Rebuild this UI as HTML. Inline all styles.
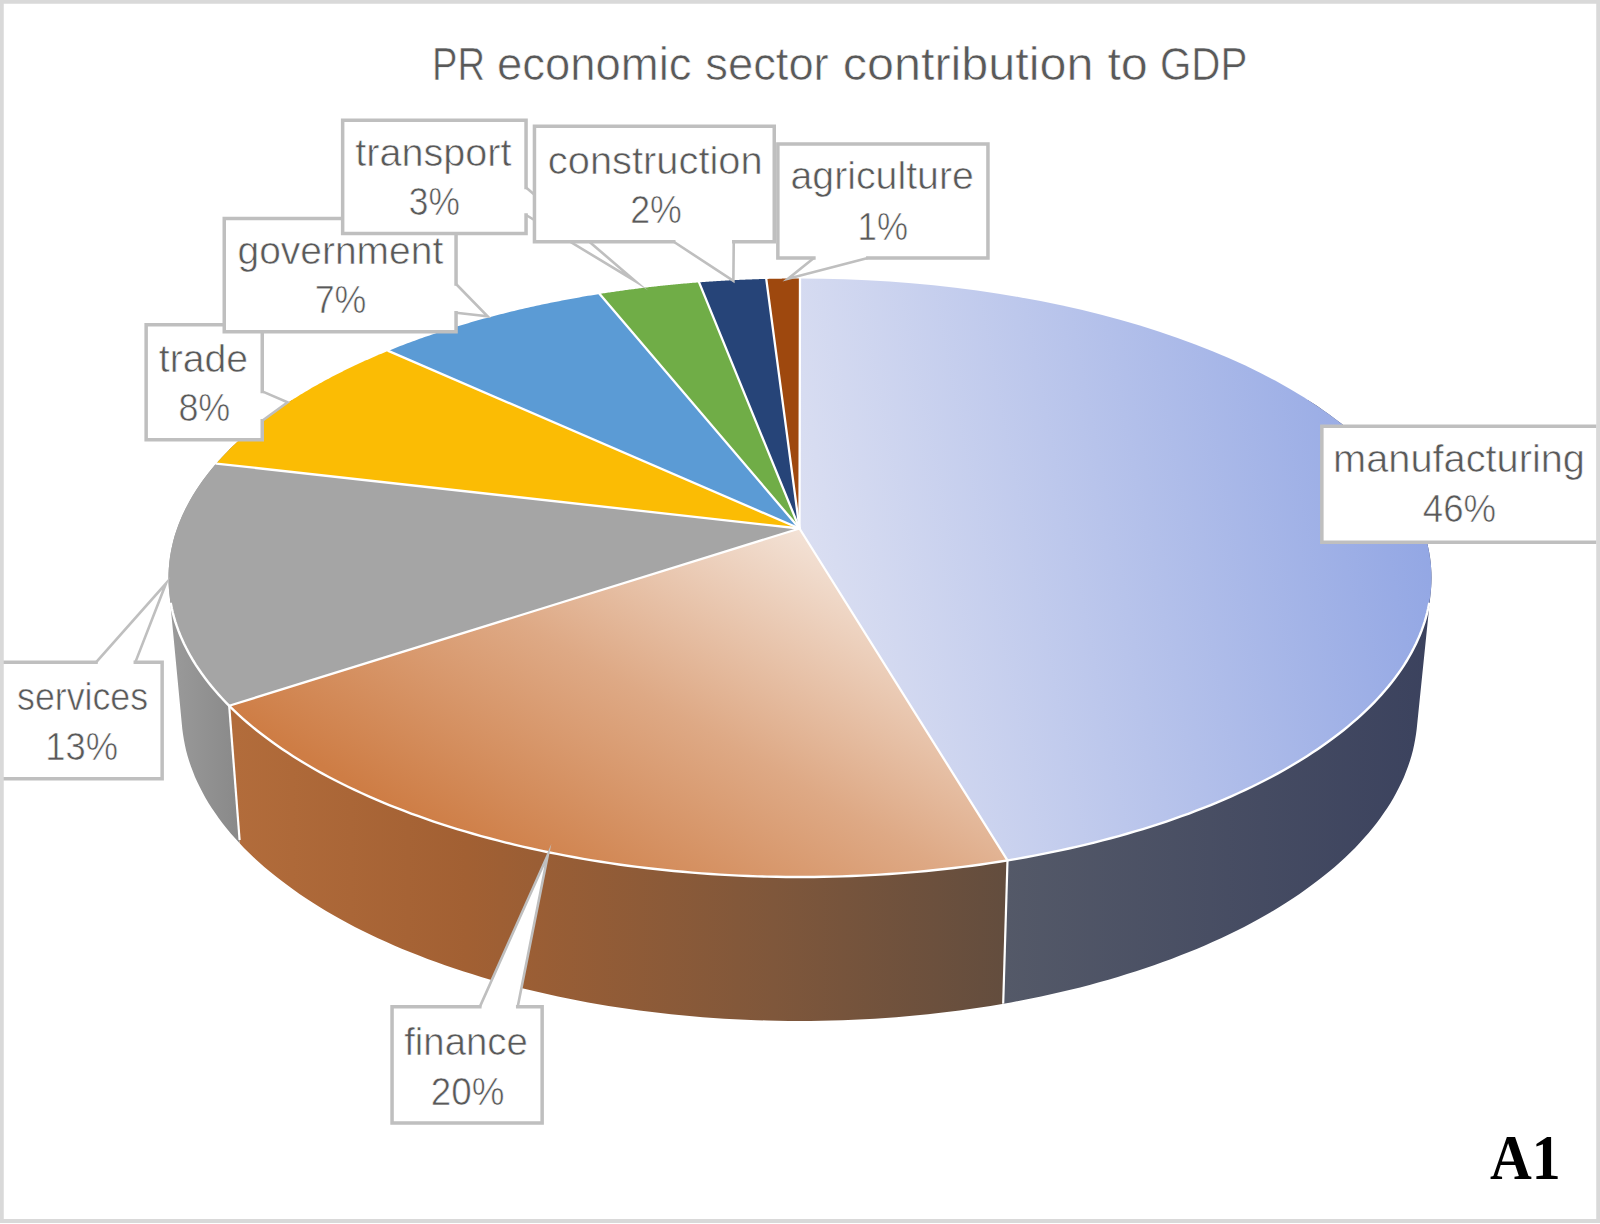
<!DOCTYPE html>
<html><head><meta charset="utf-8"><title>PR economic sector contribution to GDP</title>
<style>html,body{margin:0;padding:0;background:#fff}body{width:1600px;height:1224px;overflow:hidden}svg{display:block}text{font-family:"Liberation Sans",sans-serif;fill:#595959;stroke:#fff;stroke-width:0.6px}.a1{font-family:"Liberation Serif",serif;font-weight:bold;fill:#000;stroke:none}</style></head><body>
<svg width="1600" height="1224" viewBox="0 0 1600 1224">
<defs>
<linearGradient id="gMan" gradientUnits="userSpaceOnUse" x1="800" y1="600" x2="1418" y2="480"><stop offset="0" stop-color="#DCE0F2"/><stop offset="1" stop-color="#93A7E4"/></linearGradient>
<linearGradient id="gFin" gradientUnits="userSpaceOnUse" x1="799.5" y1="528.5" x2="577.5" y2="913"><stop offset="0" stop-color="#F3E2D6"/><stop offset="0.5" stop-color="#DEA985"/><stop offset="1" stop-color="#CE7D45"/></linearGradient>
<linearGradient id="wSer" gradientUnits="userSpaceOnUse" x1="170" y1="0" x2="240" y2="0"><stop offset="0" stop-color="#9A9A9A"/><stop offset="1" stop-color="#898989"/></linearGradient>
<linearGradient id="wFin" gradientUnits="userSpaceOnUse" x1="235" y1="0" x2="1005" y2="0"><stop offset="0" stop-color="#B26C3B"/><stop offset="0.3" stop-color="#A26033"/><stop offset="0.7" stop-color="#7F573B"/><stop offset="1" stop-color="#634D3E"/></linearGradient>
<linearGradient id="wMan" gradientUnits="userSpaceOnUse" x1="1005" y1="0" x2="1432" y2="0"><stop offset="0" stop-color="#545968"/><stop offset="1" stop-color="#3B425E"/></linearGradient>
<clipPath id="hull"><path d="M169.4,593.4 L168.9,588.2 L168.6,583.0 L168.5,577.8 L168.6,572.5 L168.9,567.3 L169.4,562.1 L170.0,556.9 L170.9,551.7 L172.0,546.5 L173.2,541.3 L174.6,536.1 L176.3,530.9 L178.1,525.8 L180.1,520.7 L182.3,515.5 L184.7,510.4 L187.3,505.4 L190.0,500.3 L193.0,495.3 L196.1,490.3 L199.4,485.3 L202.9,480.3 L206.6,475.4 L210.4,470.5 L214.5,465.6 L218.7,460.8 L223.1,456.0 L227.7,451.3 L232.4,446.6 L237.3,441.9 L242.4,437.3 L247.7,432.7 L253.1,428.1 L258.7,423.6 L264.5,419.2 L270.4,414.8 L276.5,410.4 L282.7,406.1 L289.1,401.9 L295.7,397.7 L302.4,393.5 L309.2,389.4 L316.2,385.4 L323.4,381.4 L330.7,377.5 L338.2,373.7 L345.7,369.9 L353.5,366.1 L361.3,362.5 L369.3,358.9 L377.4,355.4 L385.7,351.9 L394.1,348.5 L402.6,345.2 L411.2,341.9 L420.0,338.8 L428.8,335.7 L437.8,332.6 L446.9,329.7 L456.1,326.8 L465.4,324.0 L474.8,321.2 L484.2,318.6 L493.8,316.0 L503.5,313.5 L513.3,311.1 L523.2,308.8 L533.1,306.5 L543.1,304.4 L553.3,302.3 L563.4,300.3 L573.7,298.4 L584.0,296.5 L594.4,294.8 L604.9,293.1 L615.4,291.6 L625.9,290.1 L636.6,288.7 L647.2,287.4 L657.9,286.2 L668.7,285.0 L679.5,284.0 L690.3,283.0 L701.2,282.2 L712.1,281.4 L723.0,280.7 L734.0,280.1 L745.0,279.6 L755.9,279.2 L766.9,278.9 L778.0,278.7 L789.0,278.5 L800.0,278.5 L811.0,278.5 L822.0,278.7 L833.1,278.9 L844.1,279.2 L855.0,279.6 L866.0,280.1 L877.0,280.7 L887.9,281.4 L898.8,282.2 L909.7,283.0 L920.5,284.0 L931.3,285.0 L942.1,286.2 L952.8,287.4 L963.4,288.7 L974.1,290.1 L984.6,291.6 L995.1,293.1 L1005.6,294.8 L1016.0,296.5 L1026.3,298.4 L1036.6,300.3 L1046.7,302.3 L1056.9,304.4 L1066.9,306.5 L1076.8,308.8 L1086.7,311.1 L1096.5,313.5 L1106.2,316.0 L1115.8,318.6 L1125.2,321.2 L1134.6,324.0 L1143.9,326.8 L1153.1,329.7 L1162.2,332.6 L1171.2,335.7 L1180.0,338.8 L1188.8,341.9 L1197.4,345.2 L1205.9,348.5 L1214.3,351.9 L1222.6,355.4 L1230.7,358.9 L1238.7,362.5 L1246.5,366.1 L1254.3,369.9 L1261.8,373.7 L1269.3,377.5 L1276.6,381.4 L1283.8,385.4 L1290.8,389.4 L1297.6,393.5 L1304.3,397.7 L1310.9,401.9 L1317.3,406.1 L1323.5,410.4 L1329.6,414.8 L1335.5,419.2 L1341.3,423.6 L1346.9,428.1 L1352.3,432.7 L1357.6,437.3 L1362.7,441.9 L1367.6,446.6 L1372.3,451.3 L1376.9,456.0 L1381.3,460.8 L1385.5,465.6 L1389.6,470.5 L1393.4,475.4 L1397.1,480.3 L1400.6,485.3 L1403.9,490.3 L1407.0,495.3 L1410.0,500.3 L1412.7,505.4 L1415.3,510.4 L1417.7,515.5 L1419.9,520.7 L1421.9,525.8 L1423.7,530.9 L1425.4,536.1 L1426.8,541.3 L1428.0,546.5 L1429.1,551.7 L1430.0,556.9 L1430.6,562.1 L1431.1,567.3 L1431.4,572.5 L1431.5,577.8 L1431.4,583.0 L1431.1,588.2 L1430.6,593.4 L1416.7,728.9 L1416.0,734.3 L1415.1,739.7 L1414.1,745.0 L1412.9,750.4 L1411.5,755.7 L1409.9,761.0 L1408.1,766.3 L1406.1,771.6 L1404.0,776.9 L1401.7,782.1 L1399.1,787.3 L1396.4,792.6 L1393.6,797.7 L1390.5,802.9 L1387.3,808.0 L1383.8,813.1 L1380.2,818.2 L1376.5,823.2 L1372.5,828.2 L1368.4,833.2 L1364.1,838.1 L1359.6,843.0 L1355.0,847.9 L1350.1,852.7 L1345.2,857.5 L1340.0,862.2 L1334.7,866.9 L1329.2,871.5 L1323.6,876.1 L1317.8,880.6 L1311.8,885.1 L1305.7,889.5 L1299.5,893.9 L1293.1,898.2 L1286.5,902.5 L1279.8,906.7 L1272.9,910.9 L1265.9,915.0 L1258.8,919.0 L1251.5,923.0 L1244.1,926.9 L1236.5,930.7 L1228.8,934.5 L1221.0,938.2 L1213.0,941.8 L1204.9,945.4 L1196.7,948.9 L1188.4,952.3 L1180.0,955.6 L1171.4,958.9 L1162.8,962.1 L1154.0,965.2 L1145.1,968.3 L1136.1,971.2 L1127.0,974.1 L1117.8,976.9 L1108.5,979.7 L1099.1,982.3 L1089.6,984.9 L1080.1,987.4 L1070.4,989.8 L1060.7,992.1 L1050.9,994.3 L1041.0,996.5 L1031.0,998.5 L1021.0,1000.5 L1010.9,1002.4 L1000.7,1004.2 L990.5,1005.9 L980.2,1007.5 L969.8,1009.0 L959.5,1010.5 L949.0,1011.8 L938.5,1013.1 L928.0,1014.2 L917.4,1015.3 L906.8,1016.3 L896.2,1017.2 L885.5,1018.0 L874.8,1018.7 L864.1,1019.3 L853.4,1019.8 L842.6,1020.2 L831.8,1020.5 L821.1,1020.8 L810.3,1020.9 L799.5,1020.9 L788.7,1020.9 L777.9,1020.8 L767.2,1020.5 L756.4,1020.2 L745.6,1019.8 L734.9,1019.3 L724.2,1018.7 L713.5,1018.0 L702.8,1017.2 L692.2,1016.3 L681.6,1015.3 L671.0,1014.2 L660.5,1013.1 L650.0,1011.8 L639.5,1010.5 L629.2,1009.0 L618.8,1007.5 L608.5,1005.9 L598.3,1004.2 L588.1,1002.4 L578.0,1000.5 L568.0,998.5 L558.0,996.5 L548.1,994.3 L538.3,992.1 L528.6,989.8 L518.9,987.4 L509.4,984.9 L499.9,982.3 L490.5,979.7 L481.2,976.9 L472.0,974.1 L462.9,971.2 L453.9,968.3 L445.0,965.2 L436.2,962.1 L427.6,958.9 L419.0,955.6 L410.6,952.3 L402.3,948.9 L394.1,945.4 L386.0,941.8 L378.0,938.2 L370.2,934.5 L362.5,930.7 L354.9,926.9 L347.5,923.0 L340.2,919.0 L333.1,915.0 L326.1,910.9 L319.2,906.7 L312.5,902.5 L305.9,898.2 L299.5,893.9 L293.3,889.5 L287.2,885.1 L281.2,880.6 L275.4,876.1 L269.8,871.5 L264.3,866.9 L259.0,862.2 L253.8,857.5 L248.9,852.7 L244.0,847.9 L239.4,843.0 L234.9,838.1 L230.6,833.2 L226.5,828.2 L222.5,823.2 L218.8,818.2 L215.2,813.1 L211.7,808.0 L208.5,802.9 L205.4,797.7 L202.6,792.6 L199.9,787.3 L197.3,782.1 L195.0,776.9 L192.9,771.6 L190.9,766.3 L189.1,761.0 L187.5,755.7 L186.1,750.4 L184.9,745.0 L183.9,739.7 L183.0,734.3 L182.3,728.9Z"/></clipPath>
<clipPath id="frame"><rect x="0" y="0" width="1596.5" height="1224"/></clipPath>
</defs>
<rect width="1600" height="1224" fill="#fff"/>
<g clip-path="url(#hull)">
<polygon points="0,400 229.2,400 239.6,840.0 242.6,1224 0,1224" fill="url(#wSer)"/>
<polygon points="229.2,400 229.2,705.8 239.6,840.0 255.6,1224 1002.2,1224 1003.2,1003.8 1007.5,860.4 1007.5,400" fill="url(#wFin)"/>
<polygon points="1007.5,400 1007.5,860.4 1003.2,1003.8 1002.2,1224 1600,1224 1600,400" fill="url(#wMan)"/>
<line x1="229.2" y1="705.8" x2="239.6" y2="840.0" stroke="#fff" stroke-width="2.2"/>
<line x1="1007.5" y1="860.4" x2="1003.2" y2="1003.8" stroke="#fff" stroke-width="2.2"/>
</g>
<path d="M799.50,528.50 L800.00,278.50 L822.43,278.69 L844.84,279.26 L867.18,280.20 L889.44,281.52 L911.59,283.21 L933.60,285.27 L955.44,287.71 L977.09,290.51 L998.51,293.67 L1019.67,297.19 L1040.57,301.06 L1061.16,305.29 L1081.41,309.86 L1101.32,314.76 L1120.84,320.00 L1139.96,325.56 L1158.65,331.44 L1176.89,337.64 L1194.65,344.13 L1211.91,350.92 L1228.65,358.00 L1244.86,365.35 L1260.50,372.98 L1275.56,380.86 L1290.01,388.99 L1303.85,397.35 L1317.06,405.95 L1329.61,414.76 L1341.50,423.78 L1352.70,432.99 L1363.20,442.38 L1372.99,451.95 L1382.06,461.67 L1390.39,471.55 L1397.98,481.55 L1404.81,491.68 L1410.88,501.91 L1416.18,512.24 L1420.70,522.66 L1424.44,533.14 L1427.39,543.68 L1429.55,554.26 L1430.91,564.87 L1431.48,575.50 L1431.25,586.13 L1430.23,596.75 L1428.40,607.35 L1425.79,617.91 L1422.38,628.41 L1418.19,638.86 L1413.22,649.23 L1407.48,659.50 L1400.97,669.68 L1393.70,679.73 L1385.68,689.66 L1376.92,699.45 L1367.43,709.09 L1357.23,718.55 L1346.32,727.85 L1334.73,736.95 L1322.45,745.85 L1309.52,754.54 L1295.95,763.00 L1281.75,771.23 L1266.94,779.22 L1251.55,786.95 L1235.58,794.42 L1219.06,801.62 L1202.02,808.53 L1184.47,815.15 L1166.43,821.47 L1147.93,827.49 L1128.99,833.18 L1109.63,838.56 L1089.89,843.61 L1069.77,848.32 L1049.32,852.69 L1028.56,856.71 L1007.50,860.38Z" fill="url(#gMan)"/>
<path d="M799.50,528.50 L1007.50,860.38 L996.42,862.16 L985.26,863.83 L974.05,865.41 L962.77,866.89 L951.44,868.27 L940.06,869.55 L928.63,870.73 L917.15,871.81 L905.64,872.78 L894.08,873.66 L882.50,874.44 L870.89,875.11 L859.25,875.68 L847.59,876.15 L835.92,876.52 L824.23,876.78 L812.54,876.94 L800.84,877.00 L789.14,876.96 L777.45,876.81 L765.76,876.56 L754.09,876.21 L742.43,875.75 L730.79,875.20 L719.17,874.54 L707.58,873.78 L696.03,872.92 L684.50,871.95 L673.02,870.89 L661.59,869.72 L650.19,868.46 L638.86,867.09 L627.57,865.63 L616.35,864.07 L605.19,862.40 L594.09,860.65 L583.07,858.79 L572.12,856.84 L561.25,854.79 L550.46,852.65 L539.75,850.41 L529.14,848.08 L518.62,845.65 L508.19,843.14 L497.87,840.53 L487.65,837.83 L477.54,835.04 L467.53,832.17 L457.64,829.21 L447.87,826.16 L438.22,823.03 L428.69,819.81 L419.30,816.51 L410.03,813.12 L400.89,809.66 L391.90,806.12 L383.04,802.49 L374.32,798.80 L365.76,795.02 L357.34,791.17 L349.07,787.25 L340.96,783.25 L333.00,779.19 L325.21,775.06 L317.58,770.85 L310.11,766.59 L302.81,762.25 L295.68,757.86 L288.73,753.40 L281.95,748.88 L275.35,744.30 L268.93,739.67 L262.69,734.98 L256.64,730.24 L250.77,725.44 L245.09,720.59 L239.60,715.70 L234.30,710.75 L229.20,705.77Z" fill="url(#gFin)"/>
<path d="M799.50,528.50 L229.20,705.77 L226.38,702.90 L223.63,700.03 L220.94,697.14 L218.31,694.24 L215.75,691.32 L213.25,688.39 L210.82,685.45 L208.45,682.50 L206.15,679.54 L203.92,676.56 L201.75,673.58 L199.65,670.58 L197.62,667.57 L195.65,664.56 L193.75,661.53 L191.92,658.49 L190.16,655.45 L188.46,652.40 L186.83,649.33 L185.27,646.26 L183.78,643.19 L182.36,640.10 L181.01,637.01 L179.72,633.91 L178.50,630.81 L177.36,627.70 L176.28,624.58 L175.27,621.46 L174.33,618.33 L173.46,615.20 L172.67,612.07 L171.94,608.93 L171.28,605.78 L170.69,602.64 L170.17,599.49 L169.72,596.34 L169.34,593.19 L169.03,590.03 L168.79,586.88 L168.63,583.72 L168.53,580.56 L168.50,577.41 L168.54,574.25 L168.66,571.09 L168.84,567.93 L169.09,564.78 L169.42,561.63 L169.81,558.47 L170.28,555.32 L170.81,552.18 L171.41,549.03 L172.09,545.89 L172.83,542.75 L173.65,539.62 L174.53,536.49 L175.49,533.36 L176.51,530.24 L177.60,527.13 L178.76,524.02 L179.99,520.91 L181.29,517.82 L182.66,514.73 L184.10,511.64 L185.61,508.57 L187.18,505.50 L188.83,502.44 L190.54,499.39 L192.32,496.34 L194.16,493.31 L196.08,490.29 L198.06,487.27 L200.11,484.27 L202.22,481.27 L204.40,478.29 L206.65,475.31 L208.96,472.35 L211.34,469.40 L213.79,466.47 L216.30,463.54Z" fill="#A5A5A5"/>
<path d="M799.50,528.50 L216.30,463.54 L217.74,461.90 L219.20,460.26 L220.69,458.63 L222.19,457.00 L223.71,455.38 L225.25,453.76 L226.82,452.15 L228.40,450.54 L230.01,448.93 L231.63,447.33 L233.27,445.73 L234.94,444.14 L236.62,442.55 L238.33,440.97 L240.05,439.39 L241.79,437.82 L243.56,436.25 L245.34,434.69 L247.14,433.13 L248.96,431.58 L250.81,430.03 L252.67,428.49 L254.55,426.95 L256.45,425.42 L258.36,423.89 L260.30,422.37 L262.26,420.85 L264.23,419.34 L266.23,417.84 L268.24,416.34 L270.27,414.84 L272.32,413.36 L274.39,411.88 L276.48,410.40 L278.59,408.93 L280.71,407.47 L282.85,406.01 L285.01,404.55 L287.19,403.11 L289.39,401.67 L291.61,400.24 L293.84,398.81 L296.09,397.39 L298.36,395.97 L300.65,394.56 L302.95,393.16 L305.27,391.77 L307.61,390.38 L309.97,389.00 L312.34,387.62 L314.73,386.25 L317.14,384.89 L319.57,383.54 L322.01,382.19 L324.47,380.85 L326.94,379.51 L329.43,378.18 L331.94,376.86 L334.47,375.55 L337.01,374.24 L339.57,372.94 L342.14,371.65 L344.73,370.37 L347.34,369.09 L349.96,367.82 L352.60,366.56 L355.25,365.30 L357.92,364.05 L360.61,362.81 L363.31,361.58 L366.03,360.36 L368.76,359.14 L371.51,357.93 L374.27,356.73 L377.04,355.53 L379.84,354.35 L382.64,353.17 L385.46,352.00 L388.30,350.84Z" fill="#FBBC04"/>
<path d="M799.50,528.50 L388.30,350.84 L390.65,349.88 L393.02,348.94 L395.39,347.99 L397.77,347.05 L400.16,346.12 L402.56,345.20 L404.98,344.28 L407.40,343.36 L409.83,342.45 L412.27,341.55 L414.72,340.65 L417.17,339.76 L419.64,338.87 L422.12,337.99 L424.60,337.11 L427.10,336.24 L429.60,335.38 L432.11,334.52 L434.63,333.67 L437.16,332.83 L439.70,331.99 L442.25,331.15 L444.81,330.32 L447.37,329.50 L449.94,328.68 L452.53,327.87 L455.12,327.07 L457.71,326.27 L460.32,325.48 L462.94,324.69 L465.56,323.91 L468.19,323.14 L470.83,322.37 L473.47,321.61 L476.13,320.85 L478.79,320.10 L481.46,319.36 L484.14,318.62 L486.82,317.89 L489.52,317.17 L492.22,316.45 L494.92,315.74 L497.64,315.03 L500.36,314.33 L503.09,313.64 L505.83,312.95 L508.57,312.27 L511.32,311.60 L514.08,310.93 L516.84,310.27 L519.61,309.61 L522.39,308.97 L525.18,308.32 L527.97,307.69 L530.77,307.06 L533.57,306.44 L536.38,305.82 L539.20,305.21 L542.02,304.61 L544.85,304.01 L547.69,303.42 L550.53,302.84 L553.38,302.26 L556.23,301.69 L559.09,301.13 L561.96,300.57 L564.83,300.02 L567.70,299.48 L570.59,298.95 L573.47,298.42 L576.37,297.89 L579.26,297.38 L582.17,296.87 L585.08,296.36 L587.99,295.87 L590.91,295.38 L593.84,294.90 L596.77,294.42 L599.70,293.95Z" fill="#5B9BD5"/>
<path d="M799.50,528.50 L599.70,293.95 L600.93,293.76 L602.16,293.56 L603.39,293.37 L604.63,293.18 L605.86,292.99 L607.10,292.80 L608.33,292.62 L609.57,292.43 L610.81,292.25 L612.04,292.06 L613.28,291.88 L614.52,291.70 L615.76,291.52 L617.00,291.34 L618.25,291.16 L619.49,290.99 L620.73,290.81 L621.98,290.64 L623.22,290.46 L624.47,290.29 L625.71,290.12 L626.96,289.95 L628.21,289.79 L629.46,289.62 L630.71,289.45 L631.96,289.29 L633.21,289.13 L634.46,288.96 L635.71,288.80 L636.97,288.64 L638.22,288.49 L639.47,288.33 L640.73,288.17 L641.98,288.02 L643.24,287.87 L644.50,287.71 L645.76,287.56 L647.01,287.41 L648.27,287.27 L649.53,287.12 L650.79,286.97 L652.05,286.83 L653.32,286.68 L654.58,286.54 L655.84,286.40 L657.10,286.26 L658.37,286.12 L659.63,285.99 L660.90,285.85 L662.16,285.72 L663.43,285.58 L664.70,285.45 L665.96,285.32 L667.23,285.19 L668.50,285.06 L669.77,284.93 L671.04,284.81 L672.31,284.68 L673.58,284.56 L674.85,284.44 L676.12,284.31 L677.40,284.19 L678.67,284.08 L679.94,283.96 L681.22,283.84 L682.49,283.73 L683.76,283.61 L685.04,283.50 L686.32,283.39 L687.59,283.28 L688.87,283.17 L690.15,283.06 L691.42,282.96 L692.70,282.85 L693.98,282.75 L695.26,282.64 L696.54,282.54 L697.82,282.44 L699.10,282.34Z" fill="#70AD47"/>
<path d="M799.50,528.50 L699.10,282.34 L699.94,282.28 L700.79,282.22 L701.63,282.15 L702.48,282.09 L703.32,282.03 L704.17,281.97 L705.01,281.90 L705.86,281.84 L706.71,281.78 L707.55,281.72 L708.40,281.66 L709.24,281.61 L710.09,281.55 L710.94,281.49 L711.78,281.43 L712.63,281.38 L713.48,281.32 L714.33,281.27 L715.17,281.21 L716.02,281.16 L716.87,281.10 L717.72,281.05 L718.56,281.00 L719.41,280.95 L720.26,280.90 L721.11,280.84 L721.96,280.79 L722.81,280.74 L723.66,280.69 L724.51,280.65 L725.35,280.60 L726.20,280.55 L727.05,280.50 L727.90,280.46 L728.75,280.41 L729.60,280.37 L730.45,280.32 L731.30,280.28 L732.15,280.23 L733.00,280.19 L733.85,280.15 L734.70,280.10 L735.56,280.06 L736.41,280.02 L737.26,279.98 L738.11,279.94 L738.96,279.90 L739.81,279.86 L740.66,279.82 L741.51,279.79 L742.37,279.75 L743.22,279.71 L744.07,279.68 L744.92,279.64 L745.77,279.61 L746.63,279.57 L747.48,279.54 L748.33,279.50 L749.18,279.47 L750.04,279.44 L750.89,279.41 L751.74,279.38 L752.59,279.34 L753.45,279.31 L754.30,279.28 L755.15,279.26 L756.01,279.23 L756.86,279.20 L757.71,279.17 L758.57,279.14 L759.42,279.12 L760.27,279.09 L761.13,279.07 L761.98,279.04 L762.83,279.02 L763.69,279.00 L764.54,278.97 L765.40,278.95 L766.25,278.93Z" fill="#264478"/>
<path d="M799.50,528.50 L766.25,278.93 L766.68,278.92 L767.10,278.91 L767.53,278.90 L767.96,278.89 L768.38,278.88 L768.81,278.87 L769.24,278.86 L769.66,278.85 L770.09,278.84 L770.52,278.83 L770.95,278.82 L771.37,278.81 L771.80,278.80 L772.23,278.79 L772.65,278.78 L773.08,278.77 L773.51,278.76 L773.93,278.76 L774.36,278.75 L774.79,278.74 L775.22,278.73 L775.64,278.72 L776.07,278.71 L776.50,278.71 L776.92,278.70 L777.35,278.69 L777.78,278.69 L778.21,278.68 L778.63,278.67 L779.06,278.66 L779.49,278.66 L779.91,278.65 L780.34,278.65 L780.77,278.64 L781.20,278.63 L781.62,278.63 L782.05,278.62 L782.48,278.62 L782.91,278.61 L783.33,278.60 L783.76,278.60 L784.19,278.59 L784.61,278.59 L785.04,278.58 L785.47,278.58 L785.90,278.57 L786.32,278.57 L786.75,278.57 L787.18,278.56 L787.61,278.56 L788.03,278.55 L788.46,278.55 L788.89,278.55 L789.32,278.54 L789.74,278.54 L790.17,278.54 L790.60,278.53 L791.02,278.53 L791.45,278.53 L791.88,278.52 L792.31,278.52 L792.73,278.52 L793.16,278.52 L793.59,278.52 L794.02,278.51 L794.44,278.51 L794.87,278.51 L795.30,278.51 L795.73,278.51 L796.15,278.51 L796.58,278.50 L797.01,278.50 L797.44,278.50 L797.86,278.50 L798.29,278.50 L798.72,278.50 L799.15,278.50 L799.57,278.50 L800.00,278.50Z" fill="#9E480E"/>
<line x1="799.50" y1="528.50" x2="1007.50" y2="860.38" stroke="#fff" stroke-width="2.3" stroke-linecap="round"/>
<line x1="799.50" y1="528.50" x2="229.20" y2="705.77" stroke="#fff" stroke-width="2.3" stroke-linecap="round"/>
<line x1="799.50" y1="528.50" x2="216.30" y2="463.54" stroke="#fff" stroke-width="2.3" stroke-linecap="round"/>
<line x1="799.50" y1="528.50" x2="388.30" y2="350.84" stroke="#fff" stroke-width="2.3" stroke-linecap="round"/>
<line x1="799.50" y1="528.50" x2="599.70" y2="293.95" stroke="#fff" stroke-width="2.3" stroke-linecap="round"/>
<line x1="799.50" y1="528.50" x2="699.10" y2="282.34" stroke="#fff" stroke-width="2.3" stroke-linecap="round"/>
<line x1="799.50" y1="528.50" x2="766.25" y2="278.93" stroke="#fff" stroke-width="2.3" stroke-linecap="round"/>
<line x1="799.50" y1="528.50" x2="800.00" y2="278.50" stroke="#fff" stroke-width="2.3" stroke-linecap="round"/>
<polyline points="1429.10,603.83 1428.21,608.27 1427.18,612.71 1426.01,617.14 1424.70,621.55 1423.25,625.96 1421.66,630.36 1419.94,634.75 1418.08,639.12 1416.08,643.48 1413.94,647.83 1411.67,652.16 1409.26,656.47 1406.72,660.76 1404.04,665.04 1401.22,669.30 1398.28,673.54 1395.19,677.75 1391.98,681.95 1388.64,686.12 1385.16,690.26 1381.56,694.39 1377.82,698.48 1373.96,702.55 1369.97,706.59 1365.85,710.60 1361.61,714.59 1357.24,718.54 1352.75,722.46 1348.14,726.35 1343.40,730.21 1338.54,734.03 1333.57,737.82 1328.47,741.57 1323.26,745.28 1317.93,748.96 1312.48,752.60 1306.93,756.20 1301.26,759.77 1295.47,763.29 1289.58,766.77 1283.58,770.20 1277.47,773.60 1271.26,776.95 1264.94,780.26 1258.51,783.52 1251.99,786.74 1245.36,789.91 1238.64,793.03 1231.81,796.11 1224.90,799.13 1217.88,802.11 1210.78,805.04 1203.58,807.91 1196.30,810.74 1188.92,813.51 1181.46,816.24 1173.91,818.90 1166.29,821.52 1158.58,824.08 1150.79,826.59 1142.92,829.04 1134.97,831.43 1126.95,833.77 1118.86,836.05 1110.70,838.27 1102.47,840.44 1094.17,842.55 1085.81,844.60 1077.38,846.59 1068.89,848.52 1060.34,850.39 1051.73,852.20 1043.07,853.94 1034.35,855.63 1025.59,857.26 1016.77,858.82 1007.90,860.32 998.99,861.76 990.03,863.13 981.03,864.44 971.99,865.69 962.91,866.87 953.79,867.99 944.65,869.04 935.46,870.03 926.25,870.96 917.01,871.82 907.75,872.61 898.46,873.34 889.15,874.00 879.82,874.60 870.47,875.13 861.11,875.60 851.73,875.99 842.34,876.33 832.94,876.59 823.53,876.79 814.12,876.93 804.71,876.99 795.29,876.99 785.88,876.93 776.47,876.79 767.06,876.59 757.66,876.33 748.27,875.99 738.89,875.60 729.53,875.13 720.18,874.60 710.85,874.00 701.54,873.34 692.25,872.61 682.99,871.82 673.75,870.96 664.54,870.03 655.35,869.04 646.21,867.99 637.09,866.87 628.01,865.69 618.97,864.44 609.97,863.13 601.01,861.76 592.10,860.32 583.23,858.82 574.41,857.26 565.65,855.63 556.93,853.94 548.27,852.20 539.66,850.39 531.11,848.52 522.62,846.59 514.19,844.60 505.83,842.55 497.53,840.44 489.30,838.27 481.14,836.05 473.05,833.77 465.03,831.43 457.08,829.04 449.21,826.59 441.42,824.08 433.71,821.52 426.09,818.90 418.54,816.24 411.08,813.51 403.70,810.74 396.42,807.91 389.22,805.04 382.12,802.11 375.10,799.13 368.19,796.11 361.36,793.03 354.64,789.91 348.01,786.74 341.49,783.52 335.06,780.26 328.74,776.95 322.53,773.60 316.42,770.20 310.42,766.77 304.53,763.29 298.74,759.77 293.07,756.20 287.52,752.60 282.07,748.96 276.74,745.28 271.53,741.57 266.43,737.82 261.46,734.03 256.60,730.21 251.86,726.35 247.25,722.46 242.76,718.54 238.39,714.59 234.15,710.60 230.03,706.59 226.04,702.55 222.18,698.48 218.44,694.39 214.84,690.26 211.36,686.12 208.02,681.95 204.81,677.75 201.72,673.54 198.78,669.30 195.96,665.04 193.28,660.76 190.74,656.47 188.33,652.16 186.06,647.83 183.92,643.48 181.92,639.12 180.06,634.75 178.34,630.36 176.75,625.96 175.30,621.55 173.99,617.14 172.82,612.71 171.79,608.27 170.90,603.83" fill="none" stroke="#fff" stroke-width="2.4" stroke-linecap="round"/>
<text font-size="46.0"><tspan x="432.12" y="80.00" textLength="53.00" lengthAdjust="spacingAndGlyphs">PR</tspan> <tspan x="496.98" y="80.00" textLength="194.63" lengthAdjust="spacingAndGlyphs">economic</tspan> <tspan x="705.29" y="80.00" textLength="123.43" lengthAdjust="spacingAndGlyphs">sector</tspan> <tspan x="842.68" y="80.00" textLength="250.94" lengthAdjust="spacingAndGlyphs">contribution</tspan> <tspan x="1107.40" y="80.00" textLength="40.47" lengthAdjust="spacingAndGlyphs">to</tspan> <tspan x="1160.01" y="80.00" textLength="87.38" lengthAdjust="spacingAndGlyphs">GDP</tspan></text>
<g clip-path="url(#frame)">
<path d="M1321.85,426.15 H1598.25 V542.35 H1321.85 Z" fill="#fff" stroke="#BFBFBF" stroke-width="3.5"/>
<text font-size="38.0"><tspan x="1333.12" y="471.70" textLength="251.87" lengthAdjust="spacingAndGlyphs">manufacturing</tspan> <tspan x="1422.83" y="522.00" textLength="73.26" lengthAdjust="spacingAndGlyphs">46%</tspan></text>
<path d="M392.05,1006.85 H479.80 L547.82,854.97 L517.70,1006.85 H542.15 V1122.95 H392.05 Z" fill="#fff"/><path d="M479.80,1006.85 L547.82,854.97 L517.70,1006.85" fill="none" stroke="#BFBFBF" stroke-width="2.6" stroke-linejoin="miter" stroke-miterlimit="20"/><path d="M479.80,1006.85 H392.05 V1122.95 H542.15 V1006.85 H517.70" fill="none" stroke="#BFBFBF" stroke-width="3.5" stroke-linecap="square"/>
<text font-size="38.0"><tspan x="404.20" y="1054.70" textLength="123.55" lengthAdjust="spacingAndGlyphs">finance</tspan> <tspan x="430.78" y="1104.60" textLength="73.62" lengthAdjust="spacingAndGlyphs">20%</tspan></text>
<path d="M-1.25,662.35 H96.00 L166.09,583.33 L135.30,662.35 H162.15 V778.65 H-1.25 Z" fill="#fff"/><path d="M96.00,662.35 L166.09,583.33 L135.30,662.35" fill="none" stroke="#BFBFBF" stroke-width="2.6" stroke-linejoin="miter" stroke-miterlimit="20"/><path d="M96.00,662.35 H-1.25 V778.65 H162.15 V662.35 H135.30" fill="none" stroke="#BFBFBF" stroke-width="3.5" stroke-linecap="square"/>
<text font-size="38.0"><tspan x="17.04" y="710.20" textLength="131.08" lengthAdjust="spacingAndGlyphs">services</tspan> <tspan x="45.33" y="760.00" textLength="72.75" lengthAdjust="spacingAndGlyphs">13%</tspan></text>
<path d="M146.15,324.85 H262.25 V391.40 L287.62,402.28 L262.25,420.80 V439.85 H146.15 Z" fill="#fff"/><path d="M262.25,391.40 L287.62,402.28 L262.25,420.80" fill="none" stroke="#BFBFBF" stroke-width="2.6" stroke-linejoin="miter" stroke-miterlimit="20"/><path d="M262.25,391.40 V324.85 H146.15 V439.85 H262.25 V420.80" fill="none" stroke="#BFBFBF" stroke-width="3.5" stroke-linecap="square"/>
<text font-size="38.0"><tspan x="158.75" y="371.80" textLength="89.24" lengthAdjust="spacingAndGlyphs">trade</tspan> <tspan x="178.38" y="421.30" textLength="51.89" lengthAdjust="spacingAndGlyphs">8%</tspan></text>
<path d="M224.25,218.45 H456.05 V284.00 L487.58,316.30 L456.05,312.70 V331.85 H224.25 Z" fill="#fff"/><path d="M456.05,284.00 L487.58,316.30 L456.05,312.70" fill="none" stroke="#BFBFBF" stroke-width="2.6" stroke-linejoin="miter" stroke-miterlimit="20"/><path d="M456.05,284.00 V218.45 H224.25 V331.85 H456.05 V312.70" fill="none" stroke="#BFBFBF" stroke-width="3.5" stroke-linecap="square"/>
<text font-size="38.0"><tspan x="237.48" y="263.70" textLength="205.78" lengthAdjust="spacingAndGlyphs">government</tspan> <tspan x="314.63" y="313.30" textLength="51.64" lengthAdjust="spacingAndGlyphs">7%</tspan></text>
<path d="M342.65,120.35 H526.05 V187.50 L635.38,281.22 L526.05,215.00 V233.45 H342.65 Z" fill="#fff"/><path d="M526.05,187.50 L635.38,281.22 L526.05,215.00" fill="none" stroke="#BFBFBF" stroke-width="2.6" stroke-linejoin="miter" stroke-miterlimit="20"/><path d="M526.05,187.50 V120.35 H342.65 V233.45 H526.05 V215.00" fill="none" stroke="#BFBFBF" stroke-width="3.5" stroke-linecap="square"/>
<text font-size="38.0"><tspan x="355.30" y="165.60" textLength="156.26" lengthAdjust="spacingAndGlyphs">transport</tspan> <tspan x="408.80" y="215.20" textLength="51.06" lengthAdjust="spacingAndGlyphs">3%</tspan></text>
<path d="M534.45,126.15 H774.25 V241.75 H733.75 L733.36,280.89 L673.75,241.75 H534.45 Z" fill="#fff"/><path d="M673.75,241.75 L733.36,280.89 L733.75,241.75" fill="none" stroke="#BFBFBF" stroke-width="2.6" stroke-linejoin="miter" stroke-miterlimit="20"/><path d="M673.75,241.75 H534.45 V126.15 H774.25 V241.75 H733.75" fill="none" stroke="#BFBFBF" stroke-width="3.5" stroke-linecap="square"/>
<text font-size="38.0"><tspan x="547.86" y="173.80" textLength="214.78" lengthAdjust="spacingAndGlyphs">construction</tspan> <tspan x="630.23" y="223.20" textLength="51.64" lengthAdjust="spacingAndGlyphs">2%</tspan></text>
<path d="M777.85,143.95 H987.95 V257.95 H867.80 L788.04,278.64 L813.90,257.95 H777.85 Z" fill="#fff"/><path d="M813.90,257.95 L788.04,278.64 L867.80,257.95" fill="none" stroke="#BFBFBF" stroke-width="2.6" stroke-linejoin="miter" stroke-miterlimit="20"/><path d="M813.90,257.95 H777.85 V143.95 H987.95 V257.95 H867.80" fill="none" stroke="#BFBFBF" stroke-width="3.5" stroke-linecap="square"/>
<text font-size="38.0"><tspan x="790.47" y="189.30" textLength="183.32" lengthAdjust="spacingAndGlyphs">agriculture</tspan> <tspan x="857.52" y="239.60" textLength="50.42" lengthAdjust="spacingAndGlyphs">1%</tspan></text>
</g>
<text class="a1" font-size="62.5"><tspan x="1490.10" y="1179.00" textLength="70.71" lengthAdjust="spacingAndGlyphs">A1</tspan></text>
<path d="M0,0H1600V1223H0Z M3.75,3.75V1219H1596.25V3.75Z" fill="#D9D9D9" fill-rule="evenodd"/>
</svg></body></html>
